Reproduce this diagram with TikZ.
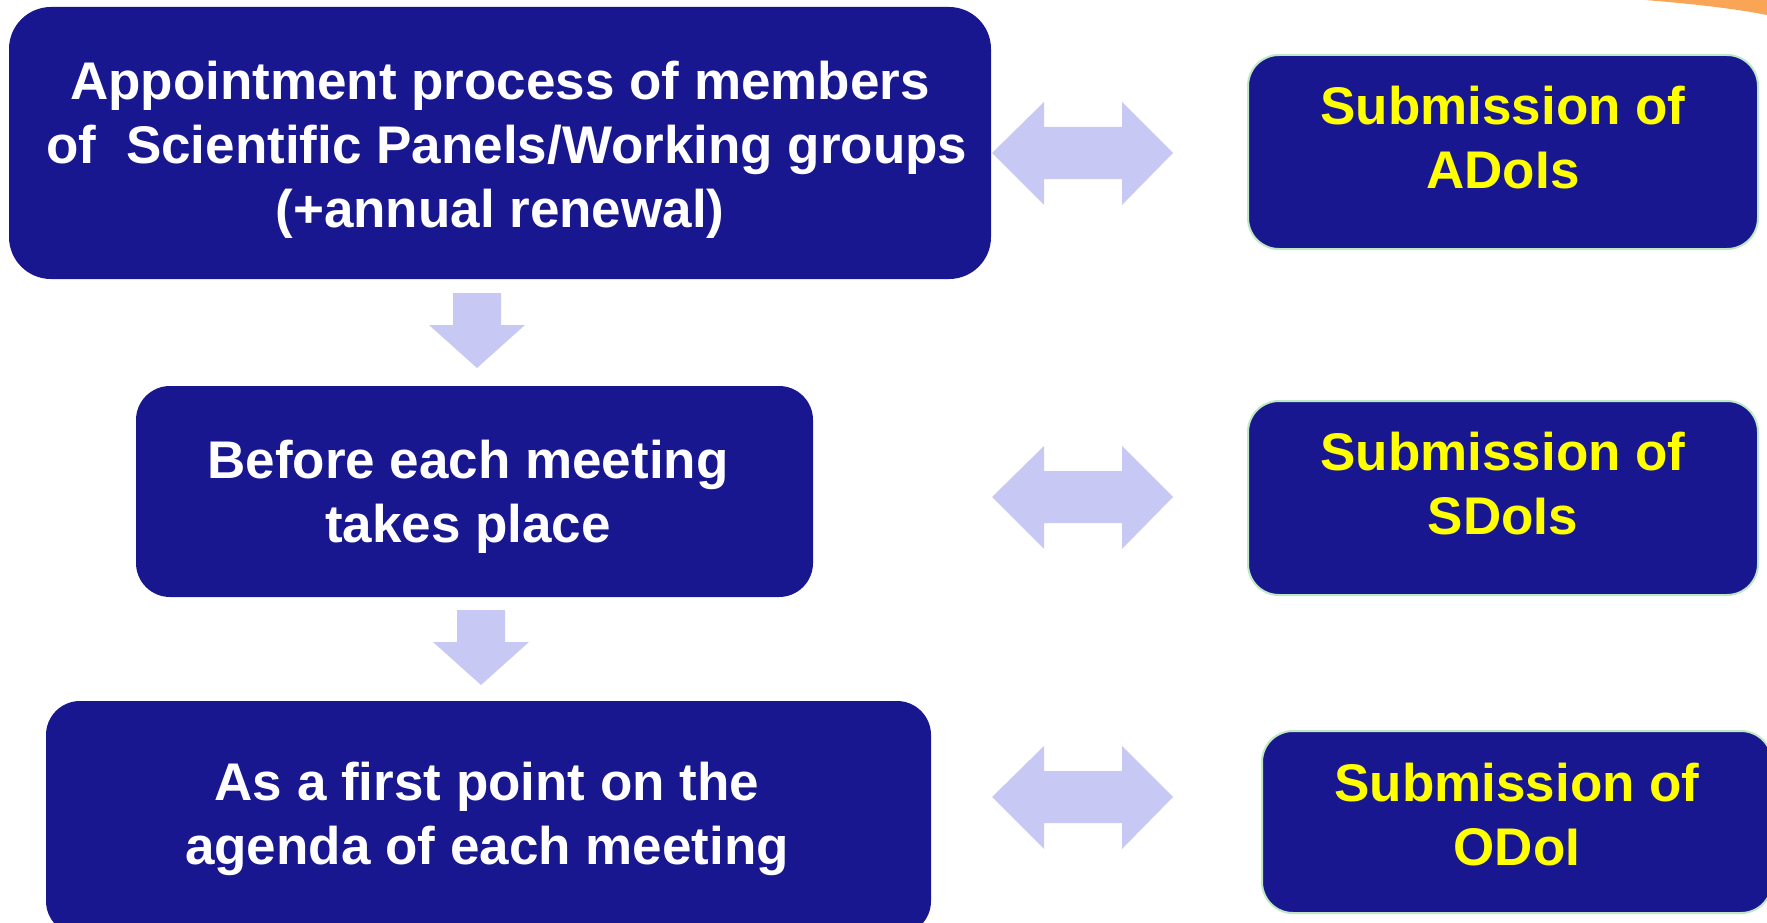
\documentclass[tikz,border=0pt]{standalone}
\usepackage{fontspec}
\setmainfont{Liberation Sans}
\definecolor{boxblue}{RGB}{25,23,143}
\definecolor{arrowfill}{RGB}{200,200,245}
\definecolor{txtyellow}{RGB}{255,255,0}
\definecolor{boxgreen}{RGB}{190,232,195}
\definecolor{deco}{RGB}{250,165,85}
\newcommand\blockdownarrow[2]{%
  \fill[arrowfill] ({#1-24},#2) -- ({#1+24},#2) -- ({#1+24},{#2+32}) -- ({#1+48},{#2+32})
    -- (#1,{#2+75}) -- ({#1-48},{#2+32}) -- ({#1-24},{#2+32}) -- cycle;}
\newcommand\blockdoublearrow[1]{%
  \fill[arrowfill] (992,#1) -- (1044,{#1-51}) -- (1044,{#1-26}) -- (1122,{#1-26}) -- (1122,{#1-51})
    -- (1173,#1) -- (1122,{#1+52}) -- (1122,{#1+26}) -- (1044,{#1+26}) -- (1044,{#1+52}) -- cycle;}
\tikzset{
  leftbox/.style={fill=boxblue, draw=none, rounded corners=#1, inner sep=0pt},
  rightbox/.style={fill=boxblue, draw=boxgreen, line width=2pt, rounded corners=31pt,
    minimum width=510pt, inner sep=0pt},
  whitetext/.style={text=white, align=center, inner sep=0pt,
    font=\fontsize{53}{64}\selectfont\bfseries},
  yellowtext/.style={text=txtyellow, align=center, inner sep=0pt,
    font=\fontsize{53}{64}\selectfont\bfseries},
}
\begin{document}
\begin{tikzpicture}[x=1pt,y=-1pt]
\useasboundingbox (0,0) rectangle (1767,923);
\clip (0,0) rectangle (1767,923);
% decoration top right
\fill[deco] (1645,0) .. controls (1695,4) and (1737,9) .. (1767,15) -- (1767,0) -- cycle;
% left boxes
\node[leftbox=42pt, minimum width=982pt, minimum height=272pt] (b1) at (500,143) {};
\node[whitetext] (t1) at (500,150) {Appointment process of members\\\hspace*{14pt}of\ \ Scientific Panels/Working groups\\(+annual renewal)};
\node[leftbox=34pt, minimum width=677pt, minimum height=211pt] (b2) at (474.5,491.5) {};
\node[whitetext] (t2) at (468,497) {Before each meeting\\takes place};
\node[leftbox=34pt, minimum width=885pt, minimum height=234pt] (b3) at (488.5,818) {};
\node[whitetext] (t3) at (487,819) {As a first point on the\\agenda of each meeting};
% right boxes
\node[rightbox, minimum height=194pt] (ra) at (1503,152) {};
\node[yellowtext] (ta) at (1503,138) {Submission of\\ADoIs};
\node[rightbox, minimum height=194pt] (rs) at (1503,498) {};
\node[yellowtext] (ts) at (1503,484) {Submission of\\SDoIs};
\node[rightbox, minimum height=182pt] (ro) at (1517,822) {};
\node[yellowtext] (to) at (1517,815) {Submission of\\ODoI};
% arrows
\blockdownarrow{477}{293}
\blockdownarrow{481}{610}
\blockdoublearrow{153}
\blockdoublearrow{497}
\blockdoublearrow{797}
\end{tikzpicture}
\end{document}
